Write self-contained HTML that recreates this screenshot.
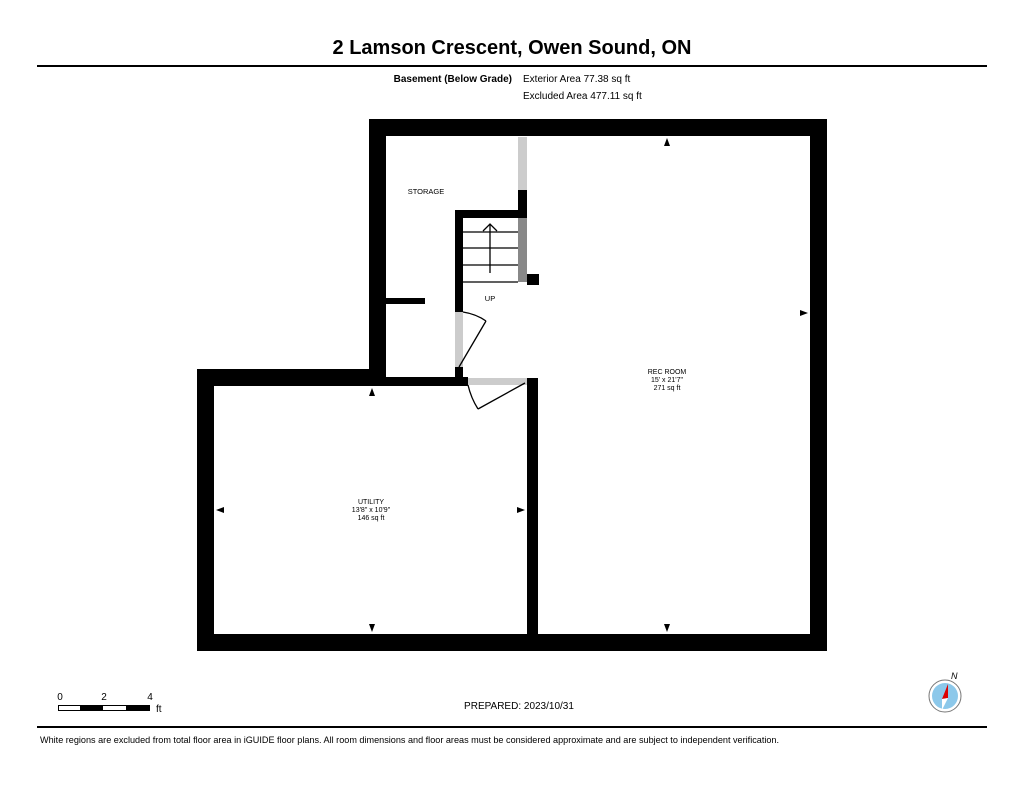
<!DOCTYPE html>
<html><head><meta charset="utf-8"><style>
body{margin:0;background:#fff;width:1024px;height:791px;overflow:hidden;font-family:"Liberation Sans",Arial,sans-serif}
</style></head><body>
<svg width="1024" height="791" viewBox="0 0 1024 791" xmlns="http://www.w3.org/2000/svg" font-family="Liberation Sans, Arial, sans-serif">
<text x="512" y="54" font-size="20" font-weight="bold" text-anchor="middle">2 Lamson Crescent, Owen Sound, ON</text>
<rect x="37" y="65" width="950" height="2" fill="#000"/>
<text x="512" y="82" font-size="10" font-weight="bold" text-anchor="end">Basement (Below Grade)</text>
<text x="523" y="82" font-size="10">Exterior Area 77.38 sq ft</text>
<text x="523" y="99" font-size="10">Excluded Area 477.11 sq ft</text>
<g fill="#000">
<rect x="369" y="119" width="458" height="17"/>
<rect x="810" y="119" width="17" height="532"/>
<rect x="197" y="634" width="630" height="17"/>
<rect x="197" y="369" width="17" height="282"/>
<rect x="197" y="369" width="189" height="17"/>
<rect x="369" y="119" width="17" height="267"/>
<rect x="386" y="377" width="82" height="9"/>
<rect x="527" y="378" width="11" height="256"/>
<rect x="455" y="210" width="72" height="8"/>
<rect x="455" y="210" width="8" height="102"/>
<rect x="455" y="367" width="8" height="19"/>
<rect x="518" y="190" width="9" height="28"/>
<rect x="527" y="274" width="12" height="11"/>
<rect x="386" y="298" width="39" height="6"/>
</g>
<rect x="518" y="137" width="9" height="53" fill="#ccc"/>
<rect x="518" y="218" width="9" height="64" fill="#888"/>
<rect x="455" y="312" width="8" height="55" fill="#ccc"/>
<rect x="468" y="378" width="59" height="7" fill="#ccc"/>
<g stroke="#000" stroke-width="1.3" fill="none">
<line x1="463" y1="232" x2="518" y2="232"/>
<line x1="463" y1="248" x2="518" y2="248"/>
<line x1="463" y1="265" x2="518" y2="265"/>
<line x1="463" y1="282" x2="518" y2="282"/>
<line x1="490" y1="273" x2="490" y2="224"/>
<polyline points="483,231 490,224 497,231"/>
<line x1="459" y1="367" x2="486" y2="321"/>
<path d="M486,321 Q476,314 463,312"/>
<line x1="525" y1="383" x2="478" y2="409"/>
<path d="M478,409 Q471,398 468,385"/>
</g>
<g fill="#000">
<polygon points="667,138 664,146 670,146"/>
<polygon points="808,313 800,310 800,316"/>
<polygon points="667,632 664,624 670,624"/>
<polygon points="372,388 369,396 375,396"/>
<polygon points="216,510 224,507 224,513"/>
<polygon points="525,510 517,507 517,513"/>
<polygon points="372,632 369,624 375,624"/>
</g>
<g font-size="7" text-anchor="middle">
<text x="426" y="194" font-size="7.5">STORAGE</text>
<text x="490" y="301" font-size="7.5">UP</text>
<text x="667" y="374">REC ROOM</text>
<text x="667" y="382">15' x 21'7"</text>
<text x="667" y="390">271 sq ft</text>
<text x="371" y="504">UTILITY</text>
<text x="371" y="512">13'8" x 10'9"</text>
<text x="371" y="520">146 sq ft</text>
</g>
<g font-size="10">
<text x="60" y="700" text-anchor="middle">0</text>
<text x="104" y="700" text-anchor="middle">2</text>
<text x="150" y="700" text-anchor="middle">4</text>
<text x="156" y="712">ft</text>
</g>
<rect x="58.5" y="705.5" width="91" height="5" fill="#fff" stroke="#000"/>
<rect x="80" y="705" width="23" height="6" fill="#000"/>
<rect x="126" y="705" width="24" height="6" fill="#000"/>
<text x="519" y="709" font-size="10" text-anchor="middle">PREPARED: 2023/10/31</text>
<circle cx="945" cy="696" r="16" fill="#fff" stroke="#777" stroke-width="1"/>
<circle cx="945" cy="696" r="13" fill="#8cc8ea"/>
<polygon points="948,684 942,699 948,698" fill="#d00"/>
<polygon points="942,699 948,698 942,710" fill="#fff"/>
<text x="951" y="679" font-size="9" font-style="italic">N</text>
<rect x="37" y="726" width="950" height="2" fill="#000"/>
<text x="40" y="743" font-size="9.1">White regions are excluded from total floor area in iGUIDE floor plans. All room dimensions and floor areas must be considered approximate and are subject to independent verification.</text>
</svg>
</body></html>
